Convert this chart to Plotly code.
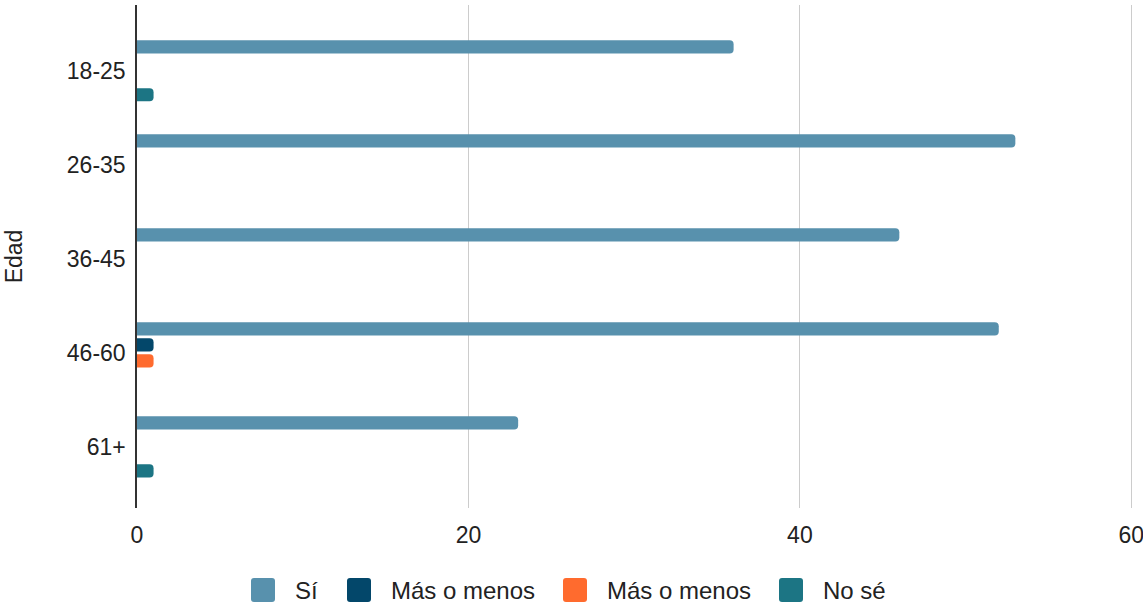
import plotly.graph_objects as go

# Age groups and answer counts per group
edades = ["18-25", "26-35", "36-45", "46-60", "61+"]
si = [36, 53, 46, 52, 23]
mas_o_menos_a = [0, 0, 0, 1, 0]
mas_o_menos_b = [0, 0, 0, 1, 0]
no_se = [1, 0, 0, 0, 1]

series_names = ["Sí", "Más o menos", "Más o menos", "No sé"]
series_values = [si, mas_o_menos_a, mas_o_menos_b, no_se]
series_colors = ["#5891AD", "#03476A", "#FF6B2E", "#1C7584"]

font_family = "Liberation Sans, Arial, sans-serif"
text_color = "#222222"

W, H = 1143, 606
M_L, M_R, M_T, M_B = 137, 10, 5, 98
plot_w = W - M_L - M_R
plot_h = H - M_T - M_B

fig = go.Figure()
for name, vals, color in zip(series_names, series_values, series_colors):
    fig.add_trace(go.Bar(
        y=edades, x=vals, name=name, orientation="h",
        marker=dict(color=color, line=dict(width=0)),
        showlegend=False,
    ))

# Bottom legend: rounded swatches with labels, laid out in pixels
legend_left_px = [251, 347, 563, 779]
swatch = 24
legend_cy = 590
corner = 3


def X(px):
    return (px - M_L) / plot_w


def Y(py):
    return (H - M_B - py) / plot_h


shapes = []
annotations = []
for left, name, color in zip(legend_left_px, series_names, series_colors):
    x0, x1 = left, left + swatch
    y0, y1 = legend_cy - swatch / 2, legend_cy + swatch / 2
    r = corner
    path = (
        f"M {X(x0 + r)},{Y(y0)} L {X(x1 - r)},{Y(y0)} "
        f"Q {X(x1)},{Y(y0)} {X(x1)},{Y(y0 + r)} "
        f"L {X(x1)},{Y(y1 - r)} Q {X(x1)},{Y(y1)} {X(x1 - r)},{Y(y1)} "
        f"L {X(x0 + r)},{Y(y1)} Q {X(x0)},{Y(y1)} {X(x0)},{Y(y1 - r)} "
        f"L {X(x0)},{Y(y0 + r)} Q {X(x0)},{Y(y0)} {X(x0 + r)},{Y(y0)} Z"
    )
    shapes.append(dict(type="path", xref="paper", yref="paper", path=path,
                       fillcolor=color, line=dict(width=0), layer="above"))
    annotations.append(dict(
        xref="paper", yref="paper", x=X(x1 + 18), y=Y(legend_cy),
        xanchor="left", yanchor="middle", showarrow=False, text=name,
        font=dict(family=font_family, size=24, color=text_color),
    ))

fig.update_layout(
    width=W, height=H,
    margin=dict(l=M_L, r=M_R, t=M_T, b=M_B, autoexpand=False),
    paper_bgcolor="white", plot_bgcolor="white",
    barmode="group", bargap=0.32, bargroupgap=0.18, barcornerradius=4,
    font=dict(family=font_family, size=23, color=text_color),
    showlegend=False,
    shapes=shapes, annotations=annotations,
    xaxis=dict(range=[0, 60.1], tickvals=[0, 20, 40, 60], showgrid=True,
               gridcolor="#CCCCCC", gridwidth=1, zeroline=False,
               showline=False, ticks="", tickfont=dict(size=23),
               ticklabelstandoff=11, ticklabeloverflow="allow",
               fixedrange=True),
    yaxis=dict(categoryorder="array", categoryarray=edades,
               range=[4.65, -0.7], showline=True, linecolor="#333333",
               linewidth=1.5, ticks="", showgrid=False,
               tickfont=dict(size=23), ticklabelstandoff=5,
               title=dict(text="Edad", font=dict(size=23), standoff=38)),
)

fig.write_html("out.html")
